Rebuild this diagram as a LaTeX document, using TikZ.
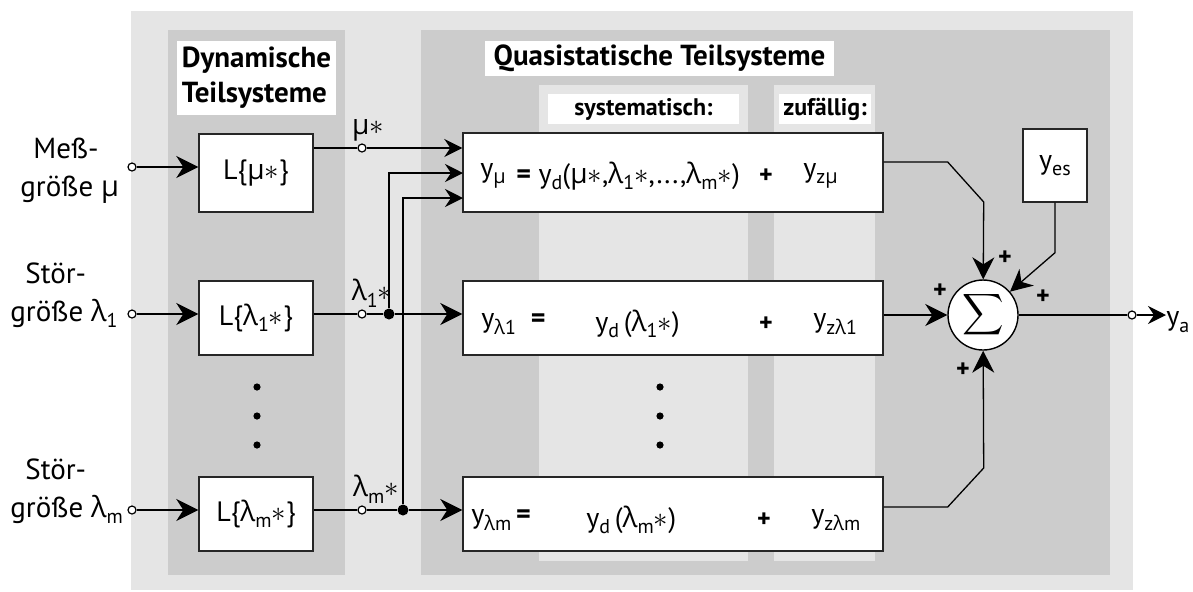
\documentclass[tikz,border=0pt]{standalone}
\usepackage{amsmath}
\usepackage{fontspec}
\setmainfont{PT Sans}
\newfontfamily\grk{Open Sans}
\usetikzlibrary{arrows.meta, positioning, calc}

\newcommand{\gmu}{{\grk μ}}
\newcommand{\glam}{{\grk λ}}
\newcommand{\st}{$\ast$}
\newcommand{\lowtx}[1]{\raisebox{-0.45ex}{\fontsize{10}{10}\selectfont #1}}

\begin{document}
\begin{tikzpicture}[
  x=0.5pt, y=-0.5pt,
  font=\fontsize{14}{16}\selectfont, >=Stealth,
  panel/.style={fill=black!20},
  column/.style={fill=black!10},
  titleb/.style={fill=white, inner sep=0pt, align=left,
                 font=\fontsize{14.5}{17.5}\selectfont\bfseries},
  subtitle/.style={fill=white, inner sep=0pt, minimum height=15pt,
                   font=\fontsize{12}{13}\selectfont\bfseries},
  lbox/.style={draw=black!85, fill=white, line width=0.7pt,
               minimum width=57pt, inner sep=0pt},
  qbox/.style={draw=black!85, fill=white, line width=0.7pt,
               minimum width=210pt, inner sep=0pt},
  txt/.style={anchor=west, inner sep=0pt},
  insig/.style={align=left, anchor=west, inner sep=0pt,
                font=\fontsize{14.5}{19}\selectfont},
  odot/.style={circle, draw=black, fill=white, line width=0.6pt,
               minimum size=4pt, inner sep=0pt},
  jdot/.style={circle, fill=black, minimum size=5.5pt, inner sep=0pt},
  vdot/.style={circle, fill=black, minimum size=3.6pt, inner sep=0pt},
  plus/.style={font=\fontsize{13}{13}\selectfont\bfseries, inner sep=0pt},
  arr/.style={-{Stealth[length=11pt, width=11pt, inset=3.5pt]}, line width=1pt},
  sarr/.style={-{Stealth[length=9pt, width=9pt, inset=3pt]}, line width=1pt},
  thin/.style={line width=0.65pt},
]

\useasboundingbox (0,0) rectangle (1193,591);

% ---- grey backgrounds ----
\fill[black!10] (131,11) rectangle (1133,590);
\fill[panel] (168,30) rectangle (345,575);
\fill[panel] (421,30) rectangle (1110,575);
\fill[column] (539,85) rectangle (748,561);
\fill[column] (774,85) rectangle (875,561);

% ---- titles ----
\node[titleb, minimum width=79.5pt, minimum height=37pt] (tdyn) at (256.5,78)
  {Dynamische\\Teilsysteme};
\node[titleb, minimum width=174.5pt, minimum height=17.5pt] (tqs) at (659.5,58.5)
  {Quasistatische Teilsysteme};
\node[subtitle, minimum width=95.5pt] (tsys) at (643.5,109) {systematisch:};
\node[subtitle, minimum width=46pt] (tzuf) at (825,109) {zufällig:};

% ---- dynamic blocks ----
\node[lbox, minimum height=39pt] (lmu) at (256,173) {L\{\gmu\st\}};
\node[lbox, minimum height=37pt] (l1)  at (256,318) {L\{\glam\lowtx{1}\st\}};
\node[lbox, minimum height=37pt] (lm)  at (256,514) {L\{\glam\lowtx{m}\st\}};
\foreach \yy in {387,416,445} \node[vdot] at (257,\yy) {};

% ---- quasistatic blocks ----
\node[qbox, minimum height=39.5pt] (q1) at (673,172.5) {};
\node[qbox, minimum height=37pt]   (q2) at (673,318) {};
\node[qbox, minimum height=37pt]   (q3) at (673,514) {};
\foreach \yy in {387,416,445} \node[vdot] at (660,\yy) {};

\node[txt] (q1y) at (480,176) {y\lowtx{\gmu}};
\node[txt] (q1d) at (516,176) {\textbf{=} y\lowtx{d}(\gmu\st,\glam\lowtx{1}\st,...,\glam\lowtx{m}\st)};
\node[plus] (q1p) at (766,176) {+};
\node[txt] (q1z) at (803,176) {y\lowtx{z\gmu}};

\node[txt] (q2y) at (481,324) {y\lowtx{\glam 1}\ \ \textbf{=}};
\node[txt] (q2d) at (595,324) {y\lowtx{d}\,(\glam\lowtx{1}\st)};
\node[plus] (q2p) at (766,324) {+};
\node[txt] (q2z) at (813,324) {y\lowtx{z\glam 1}};

\node[txt] (q3y) at (471,520) {y\lowtx{\glam m}\,\textbf{=}};
\node[txt] (q3d) at (586,520) {y\lowtx{d}\,(\glam\lowtx{m}\st)};
\node[plus] (q3p) at (764,520) {+};
\node[txt] (q3z) at (811,520) {y\lowtx{z\glam m}};

% ---- inputs ----
\node[insig] (tmu) at (20,171) {\hspace*{6.5pt}Meß-\\größe \gmu};
\node[insig] (tl1) at (10,295) {\hspace*{7.5pt}Stör-\\größe \glam\lowtx{1}};
\node[insig] (tlm) at (10,491) {\hspace*{7.5pt}Stör-\\größe \glam\lowtx{m}};

\node[odot] (imu) at (132,167) {};
\node[odot] (il1) at (132,314) {};
\node[odot] (ilm) at (132,510) {};
\draw[arr] (imu) -- (imu -| lmu.west);
\draw[arr] (il1) -- (il1 -| l1.west);
\draw[arr] (ilm) -- (ilm -| lm.west);

% ---- intermediate signals ----
\node[odot, label={[inner sep=1pt, xshift=3pt]above:\gmu\st}] (smu) at (362,148) {};
\node[odot, label={[inner sep=1pt, xshift=5pt]above:\glam\lowtx{1}\st}] (sl1) at (362,314) {};
\node[odot, label={[inner sep=1pt, xshift=7pt]above:\glam\lowtx{m}\st}] (slm) at (362,510) {};
\node[jdot] (j1) at (389,314) {};
\node[jdot] (jm) at (403,510) {};
\coordinate (q1b) at (463,173);
\coordinate (q1c) at (463,198);

\draw[line width=1pt] (lmu.east |- smu) -- (smu);
\draw[line width=1pt] (l1.east |- sl1) -- (sl1) -- (j1);
\draw[line width=1pt] (lm.east |- slm) -- (slm) -- (jm);
\draw[sarr] (smu) -- (smu -| q1.west);
\draw[sarr] (j1) |- (q1b);
\draw[sarr] (jm) |- (q1c);
\draw[arr] (j1) -- (j1 -| q2.west);
\draw[arr] (jm) -- (jm -| q3.west);

% ---- summation ----
\node[circle, draw=black, fill=white, line width=0.7pt, minimum size=35pt, inner sep=0pt]
  (sum) at (983,315) {\fontsize{14.5}{14.5}\selectfont$\displaystyle\sum$};
\node[lbox, minimum width=32pt, minimum height=36.5pt] (yes) at (1055,165.5) {y\lowtx{es}};

\draw[thin, -{Stealth[length=11pt, width=11pt, inset=3.5pt]}]
  (q1.east |- 0,162) -- ++(64,0) -- ++(36,40) -- (sum);
\draw[thin, -{Stealth[length=11pt, width=11pt, inset=3.5pt]}]
  (q3.east |- 0,507) -- ++(64,0) -- ++(36,-39) -- (sum);
\draw[thin, -{Stealth[length=11pt, width=11pt, inset=3.5pt]}]
  (yes.south) -- ++(0,50) -- (sum);
\draw[arr] (q2.east |- sum) -- (sum);

\node[plus] (p1) at (1005,258) {+};
\node[plus] (p2) at (940,291) {+};
\node[plus] (p3) at (1043,297) {+};
\node[plus] (p4) at (963,370) {+};

% ---- output ----
\node[odot] (oa) at (1132,315) {};
\node[txt] (ya) at (1166,322) {y\lowtx{a}};
\draw[line width=1pt] (sum) -- (oa);
\draw[sarr] (oa) -- (ya.west |- oa);

\end{tikzpicture}
\end{document}
